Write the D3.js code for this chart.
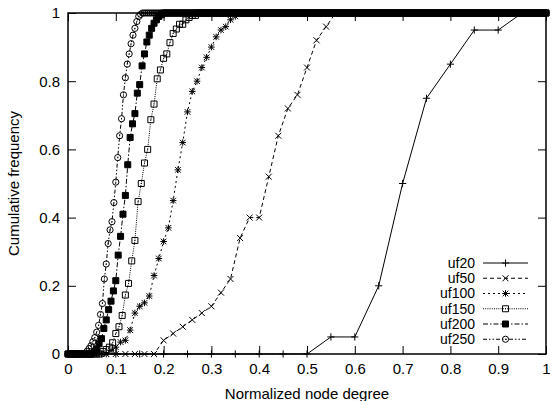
<!DOCTYPE html>
<html>
<head>
<meta charset="utf-8">
<script src="https://cdn.jsdelivr.net/npm/d3@7"></script>
<style>
  html, body { margin: 0; padding: 0; background: #fff; }
  svg { display: block; }
  text { font-family: "Liberation Sans", Arial, Helvetica, sans-serif; fill: #000; }
</style>
</head>
<body>
<svg id="chart" width="552" height="401"></svg>
<script>
// ---------------- DATA ----------------
const seriesNames = ["uf20", "uf50", "uf100", "uf150", "uf200", "uf250"];
// each series: cumulative frequency at normalized degree k / nodeCount
const nodeCounts = [20, 50, 100, 150, 200, 250];

const uf20Values = [0,0,0,0,0,0,0,0,0,0,0,
  0.05,0.05,0.2,0.5,0.75,0.85,0.95,0.95,1,1];

const uf50Values = [0,0,0,0,0,0,0,0,0,0,
  0.04,0.06,0.08,0.10,0.12,0.14,0.18,0.22,0.34,0.40,0.40,0.52,0.64,0.72,0.76,0.84,0.92,0.96,
  1,1,1,1,1,1,1,1,1,1,
  1,1,1,1,1,1,1,1,1,1,
  1,1,1];

const uf100Values = [0,0,0,0,0,0,0,0,0,
  0.01,0.02,0.035,0.04,0.07,0.12,0.14,0.15,0.17,0.23,0.28,0.33,0.37,0.45,0.54,0.62,0.71,0.77,
  0.80,0.84,0.87,0.90,0.93,0.95,0.96,0.98,0.99,
  1,1,1,1,1,1,1,1,1,1,
  1,1,1,1,1,1,1,1,1,1,
  1,1,1,1,1,1,1,1,1,1,
  1,1,1,1,1,1,1,1,1,1,
  1,1,1,1,1,1,1,1,1,1,
  1,1,1,1,1,1,1,1,1,1,
  1,1,1,1,1];

const uf150Values = [0,0,0,0,0,0,0,0,0,0,0,
  0.007,0.013,0.02,0.033,0.06,0.08,0.113,0.173,0.207,0.273,0.333,0.447,0.5,0.56,0.6,
  0.687,0.733,0.807,0.833,0.867,0.88,0.913,0.94,0.953,0.967,0.967,0.98,0.987,0.993,0.993,
  1,1,1,1,1,1,1,1,1,1,
  1,1,1,1,1,1,1,1,1,1,
  1,1,1,1,1,1,1,1,1,1,
  1,1,1,1,1,1,1,1,1,1,
  1,1,1,1,1,1,1,1,1,1,
  1,1,1,1,1,1,1,1,1,1,
  1,1,1,1,1,1,1,1,1,1,
  1,1,1,1,1,1,1,1,1,1,
  1,1,1,1,1,1,1,1,1,1,
  1,1,1,1,1,1,1,1,1,1,
  1,1,1,1,1,1,1,1,1,1];

const uf200Values = [0,0,0,0,0,0,0,0,0,0,0,
  0.005,0.015,0.03,0.045,0.075,0.10,0.13,0.155,0.185,0.215,0.29,0.345,0.41,0.465,0.555,
  0.635,0.675,0.705,0.765,0.79,0.845,0.88,0.915,0.935,0.955,0.97,0.98,0.99,0.995,
  1,1,1,1,1,1,1,1,1,1,
  1,1,1,1,1,1,1,1,1,1,
  1,1,1,1,1,1,1,1,1,1,
  1,1,1,1,1,1,1,1,1,1,
  1,1,1,1,1,1,1,1,1,1,
  1,1,1,1,1,1,1,1,1,1,
  1,1,1,1,1,1,1,1,1,1,
  1,1,1,1,1,1,1,1,1,1,
  1,1,1,1,1,1,1,1,1,1,
  1,1,1,1,1,1,1,1,1,1,
  1,1,1,1,1,1,1,1,1,1,
  1,1,1,1,1,1,1,1,1,1,
  1,1,1,1,1,1,1,1,1,1,
  1,1,1,1,1,1,1,1,1,1,
  1,1,1,1,1,1,1,1,1,1,
  1,1,1,1,1,1,1,1,1,1,
  1];

const uf250Values = [0,0,0,0,0,0,0,0,0,0,
  0.008,0.016,0.024,0.036,0.048,0.064,0.084,0.116,0.148,0.22,0.264,0.324,0.364,0.388,0.444,
  0.504,0.576,0.64,0.69,0.76,0.81,0.85,0.88,0.91,0.935,0.955,0.975,0.99,0.996,
  1,1,1,1,1,1,1,1,1,1,
  1,1,1,1,1,1,1,1,1,1,
  1,1,1,1,1,1,1,1,1,1,
  1,1,1,1,1,1,1,1,1,1,
  1,1,1,1,1,1,1,1,1,1,
  1,1,1,1,1,1,1,1,1,1,
  1,1,1,1,1,1,1,1,1,1,
  1,1,1,1,1,1,1,1,1,1,
  1,1,1,1,1,1,1,1,1,1,
  1,1,1,1,1,1,1,1,1,1,
  1,1,1,1,1,1,1,1,1,1,
  1,1,1,1,1,1,1,1,1,1,
  1,1,1,1,1,1,1,1,1,1,
  1,1,1,1,1,1,1,1,1,1,
  1,1,1,1,1,1,1,1,1,1,
  1,1,1,1,1,1,1,1,1,1,
  1,1,1,1,1,1,1,1,1,1,
  1,1,1,1,1,1,1,1,1,1,
  1,1,1,1,1,1,1,1,1,1,
  1,1,1,1,1,1,1,1,1,1,
  1,1,1,1,1,1,1,1,1,1,
  1,1];

const seriesValues = [uf20Values, uf50Values, uf100Values, uf150Values, uf200Values, uf250Values];

const xTickValues = [0, 0.1, 0.2, 0.3, 0.4, 0.5, 0.6, 0.7, 0.8, 0.9, 1];
const xTickLabels = ["0", "0.1", "0.2", "0.3", "0.4", "0.5", "0.6", "0.7", "0.8", "0.9", "1"];
const yTickValues = [0, 0.2, 0.4, 0.6, 0.8, 1];
const yTickLabels = ["0", "0.2", "0.4", "0.6", "0.8", "1"];
const xTitle = "Normalized node degree";
const yTitle = "Cumulative frequency";

// ---------------- STYLE ----------------
const dashes = [null, "4,3", "2,3", "1,1.2", "5,2,1.5,2", "4,2,1.5,2,1.5,2"];
const markerTypes = ["plus", "cross", "star", "square", "fsquare", "circle"];

const W = 552, H = 401;
const M = { left: 68, right: 6, top: 13, bottom: 47 };

const svg = d3.select("#chart");
const x = d3.scaleLinear().domain([0, 1]).range([M.left, W - M.right]);
const y = d3.scaleLinear().domain([0, 1]).range([H - M.bottom, M.top]);

function markerPath(type, cx, cy) {
  const p = d3.path();
  if (type === "plus") {
    const h = 3.6;
    p.moveTo(cx - h, cy); p.lineTo(cx + h, cy);
    p.moveTo(cx, cy - h); p.lineTo(cx, cy + h);
  } else if (type === "cross") {
    const h = 3;
    p.moveTo(cx - h, cy - h); p.lineTo(cx + h, cy + h);
    p.moveTo(cx - h, cy + h); p.lineTo(cx + h, cy - h);
  } else if (type === "star") {
    const h = 3.3, g = 2.8;
    p.moveTo(cx - h, cy); p.lineTo(cx + h, cy);
    p.moveTo(cx, cy - h); p.lineTo(cx, cy + h);
    p.moveTo(cx - g, cy - g); p.lineTo(cx + g, cy + g);
    p.moveTo(cx - g, cy + g); p.lineTo(cx + g, cy - g);
  } else if (type === "square" || type === "fsquare") {
    const h = 3;
    p.rect(cx - h, cy - h, 2 * h, 2 * h);
  } else if (type === "circle") {
    const r = 3.1;
    p.moveTo(cx + r, cy);
    p.arc(cx, cy, r, 0, 2 * Math.PI);
  }
  return p.toString();
}

function drawMarker(g, type, cx, cy) {
  g.append("path")
    .attr("d", markerPath(type, cx, cy))
    .attr("fill", type === "fsquare" ? "#000" : "none")
    .attr("stroke", "#000")
    .attr("stroke-width", 1);
  if (type === "square" || type === "circle") {
    g.append("rect").attr("x", cx - 0.5).attr("y", cy - 0.5)
      .attr("width", 1).attr("height", 1).attr("fill", "#000");
  }
}

// ---------------- AXES ----------------
const tickLen = 8;
const fontTick = 15;

const gx = svg.append("g").attr("transform", `translate(0,${y(0)})`)
  .call(d3.axisBottom(x).tickValues(xTickValues)
    .tickFormat((d, i) => xTickLabels[i]).tickSize(-tickLen).tickPadding(9));
const gxTop = svg.append("g").attr("transform", `translate(0,${y(1)})`)
  .call(d3.axisTop(x).tickValues(xTickValues).tickFormat("").tickSize(-tickLen));
const gy = svg.append("g").attr("transform", `translate(${x(0)},0)`)
  .call(d3.axisLeft(y).tickValues(yTickValues)
    .tickFormat((d, i) => yTickLabels[i]).tickSize(-tickLen).tickPadding(8));
const gyRight = svg.append("g").attr("transform", `translate(${x(1)},0)`)
  .call(d3.axisRight(y).tickValues(yTickValues).tickFormat("").tickSize(-tickLen));

[gx, gxTop, gy, gyRight].forEach(g => {
  g.select(".domain").remove();
  g.selectAll(".tick line").attr("stroke", "#000").attr("stroke-width", 1);
  g.selectAll(".tick text").attr("font-size", fontTick)
    .attr("font-family", "'Liberation Sans', Arial, Helvetica, sans-serif").attr("fill", "#000");
});

// border
svg.append("rect")
  .attr("x", x(0)).attr("y", y(1))
  .attr("width", x(1) - x(0)).attr("height", y(0) - y(1))
  .attr("fill", "none").attr("stroke", "#000").attr("stroke-width", 1.5);

// titles
svg.append("text").attr("x", (x(0) + x(1)) / 2).attr("y", 399)
  .attr("text-anchor", "middle").attr("font-size", 15).text(xTitle);
svg.append("text")
  .attr("transform", `translate(19,${(y(0) + y(1)) / 2}) rotate(-90)`)
  .attr("text-anchor", "middle").attr("font-size", 15).text(yTitle);

// ---------------- SERIES ----------------
const line = d3.line().x(d => x(d.x)).y(d => y(d.y));

const legendX = 475, legendY0 = 263, legendDY = 15.25;
const sampleX0 = 483, sampleX1 = 528;

seriesNames.forEach((name, i) => {
  const pts = seriesValues[i].map((v, k) => ({ x: k / nodeCounts[i], y: v }));
  const g = svg.append("g").attr("class", "series " + name);
  g.append("path").datum(pts)
    .attr("d", line)
    .attr("fill", "none").attr("stroke", "#000").attr("stroke-width", 1)
    .attr("stroke-dasharray", dashes[i]);
  pts.forEach(p => drawMarker(g, markerTypes[i], x(p.x), y(p.y)));

  // legend
  const ly = legendY0 + i * legendDY;
  const lg = svg.append("g").attr("class", "legend");
  lg.append("text").attr("x", legendX).attr("y", ly).attr("dy", "0.35em")
    .attr("text-anchor", "end").attr("font-size", 14).text(name);
  lg.append("line").attr("x1", sampleX0).attr("x2", sampleX1)
    .attr("y1", ly).attr("y2", ly)
    .attr("stroke", "#000").attr("stroke-width", 1)
    .attr("stroke-dasharray", dashes[i]);
  drawMarker(lg, markerTypes[i], (sampleX0 + sampleX1) / 2, ly);
});
</script>
</body>
</html>
